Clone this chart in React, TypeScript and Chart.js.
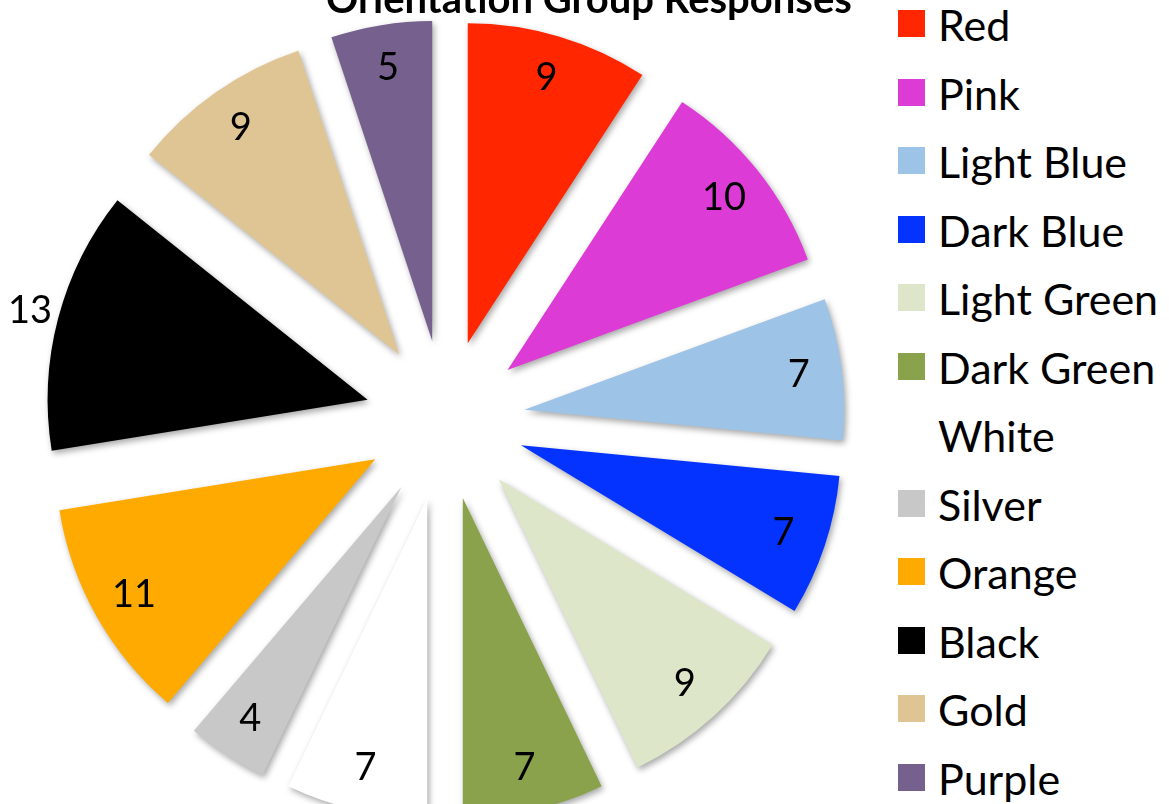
import React, { useEffect, useRef } from "react";
import { Chart, registerables } from "chart.js";

Chart.register(...registerables);

const TITLE = "Orientation Group Responses";
const categories = [
  "Red",
  "Pink",
  "Light Blue",
  "Dark Blue",
  "Light Green",
  "Dark Green",
  "White",
  "Silver",
  "Orange",
  "Black",
  "Gold",
  "Purple",
];
const responses = [9, 10, 7, 7, 9, 7, 7, 4, 11, 13, 9, 5];
const sliceColors = [
  "#FF2600",
  "#DD3BD6",
  "#9DC3E6",
  "#0433FF",
  "#DDE6C8",
  "#8AA24C",
  "#FFFFFF",
  "#C8C8C8",
  "#FFAA00",
  "#000000",
  "#E0C594",
  "#75608E",
];
// labels that sit outside their slice (best-fit placement)
const outsideLabels = ["Black"];

const FONT = "Lato, 'Noto Sans', sans-serif";
const EXPLODE = 80;
const RADIUS = 320;

const explodePlugin = {
  id: "explodeSlices",
  beforeDatasetDraw(chart: any, args: any) {
    const ctx = chart.ctx;
    args.meta.data.forEach((arc: any) => {
      const p = arc.getProps(["startAngle", "endAngle"], true);
      const mid = (p.startAngle + p.endAngle) / 2;
      ctx.save();
      ctx.translate(Math.cos(mid) * EXPLODE, Math.sin(mid) * EXPLODE);
      ctx.shadowColor = "rgba(0,0,0,0.35)";
      ctx.shadowBlur = 6;
      ctx.shadowOffsetX = 2;
      ctx.shadowOffsetY = 3;
      arc.draw(ctx);
      ctx.restore();
    });
    return false;
  },
};

const valueLabelPlugin = {
  id: "valueLabels",
  afterDatasetsDraw(chart: any) {
    const ctx = chart.ctx;
    const meta = chart.getDatasetMeta(0);
    const values = chart.data.datasets[0].data;
    const labels = chart.data.labels;
    ctx.save();
    ctx.font = `38px ${FONT}`;
    ctx.fillStyle = "#000000";
    ctx.textAlign = "center";
    ctx.textBaseline = "middle";
    meta.data.forEach((arc: any, i: number) => {
      const p = arc.getProps(["x", "y", "startAngle", "endAngle", "outerRadius"], true);
      const mid = (p.startAngle + p.endAngle) / 2;
      const outside = outsideLabels.includes(labels[i]);
      const d = EXPLODE + (outside ? p.outerRadius + 29 : p.outerRadius * 0.865);
      ctx.fillText(String(values[i]), p.x + Math.cos(mid) * d, p.y + Math.sin(mid) * d);
    });
    ctx.restore();
  },
};

export default function App() {
  const canvasRef = useRef<HTMLCanvasElement | null>(null);

  useEffect(() => {
    document.body.style.margin = "0";
    const canvas = canvasRef.current;
    if (!canvas) return;
    const chart = new Chart(canvas, {
      type: "pie",
      data: {
        labels: categories,
        datasets: [
          {
            data: responses,
            backgroundColor: sliceColors,
            borderWidth: 0,
            radius: RADIUS,
          },
        ],
      },
      options: {
        responsive: false,
        animation: false,
        devicePixelRatio: 1,
        layout: { padding: 0 },
        plugins: {
          legend: { display: false },
          title: { display: false },
          tooltip: { enabled: false },
        },
      },
      plugins: [explodePlugin, valueLabelPlugin],
    });
    return () => chart.destroy();
  }, []);

  return (
    <div
      style={{
        position: "fixed",
        left: 0,
        top: 0,
        width: 1169,
        height: 804,
        overflow: "hidden",
        background: "#ffffff",
        fontFamily: FONT,
      }}
    >
      <canvas
        ref={canvasRef}
        width={890}
        height={840}
        style={{ position: "absolute", left: 0, top: 0, width: 890, height: 840 }}
      />
      <div
        style={{
          position: "absolute",
          left: 589,
          top: -26,
          transform: "translateX(-50%)",
          whiteSpace: "nowrap",
          fontWeight: 700,
          fontSize: 40,
          lineHeight: "48px",
          color: "#000",
        }}
      >
        {TITLE}
      </div>
      {categories.map((name, i) => (
        <div
          key={name}
          style={{
            position: "absolute",
            left: 898,
            top: 10 + i * 68.5,
            height: 40,
            display: "flex",
            alignItems: "flex-start",
            whiteSpace: "nowrap",
          }}
        >
          <span
            style={{
              display: "inline-block",
              width: 27,
              height: 27,
              background: sliceColors[i],
            }}
          />
          <span
            style={{
              marginLeft: 13,
              fontSize: 43,
              lineHeight: "43px",
              marginTop: -7,
              color: "#000",
            }}
          >
            {name}
          </span>
        </div>
      ))}
    </div>
  );
}
